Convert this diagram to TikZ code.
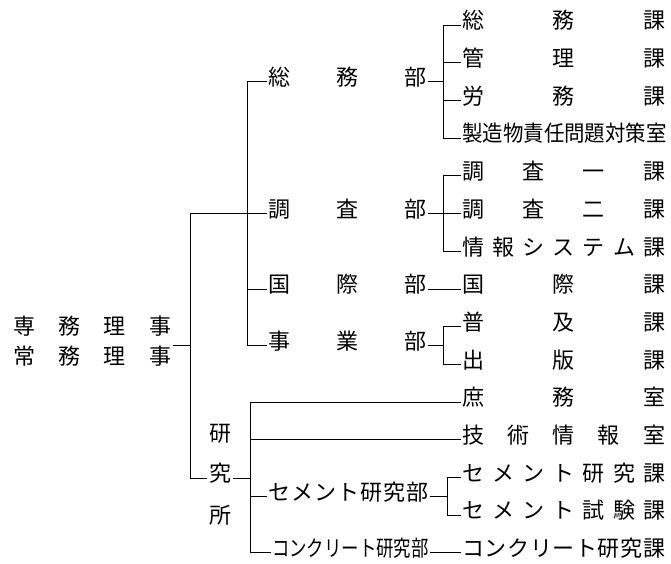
\documentclass[tikz,border=0pt]{standalone}
\usepackage{fontspec}
\usepackage{graphicx}
\setmainfont{Noto Sans CJK JP}
\newcommand\spr[2]{\hbox to #1{#2}}
\begin{document}
\begin{tikzpicture}[x=1pt,y=-1pt,
  lbl/.style={anchor=west, inner xsep=1.5pt, inner ysep=0pt, text height=0.88em, text depth=0.12em, font=\fontsize{22}{25}\selectfont},
  cl/.style={anchor=center, inner xsep=1.5pt, inner ysep=0pt, text height=0.88em, text depth=0.12em, font=\fontsize{22}{25}\selectfont},
  conn/.style={line width=0.8pt, black}]
\useasboundingbox (0,0) rectangle (671,564);
% root
\node[lbl] (root1) at (11.5,331) {\spr{158pt}{専\hfil 務\hfil 理\hfil 事}};
\node[lbl] (root2) at (11.5,361) {\spr{158pt}{常\hfil 務\hfil 理\hfil 事}};
% departments
\node[lbl] (d1) at (266.5,81.5) {\spr{158pt}{総\hfil 務\hfil 部}};
\node[lbl] (d2) at (266.5,213.5) {\spr{158pt}{調\hfil 査\hfil 部}};
\node[lbl] (d3) at (266.5,288.9) {\spr{158pt}{国\hfil 際\hfil 部}};
\node[lbl] (d4) at (266.5,345.5) {\spr{158pt}{事\hfil 業\hfil 部}};
% research institute
\node[cl] (ken) at (220,438) {研};
\node[cl] (kyu) at (220,478) {究};
\node[cl] (sho) at (220,520) {所};
\node[lbl] (d5) at (266.5,496.2) {\spr{160pt}{セ\hfil メ\hfil ン\hfil ト\hfil 研\hfil 究\hfil 部}};
\node[lbl] (d6) at (270.5,552.8) {\scalebox{0.79}[1]{コンクリート研究部}};
% sections
\node[lbl] (r1) at (460.5,25) {\spr{203pt}{総\hfil 務\hfil 課}};
\node[lbl] (r2) at (460.5,62.7) {\spr{203pt}{管\hfil 理\hfil 課}};
\node[lbl] (r3) at (460.5,100.4) {\spr{203pt}{労\hfil 務\hfil 課}};
\node[lbl] (r4) at (460.5,138.1) {\scalebox{0.93}[1]{製造物責任問題対策室}};
\node[lbl] (r5) at (460.5,175.8) {\spr{203pt}{調\hfil 査\hfil 一\hfil 課}};
\node[lbl] (r6) at (460.5,213.5) {\spr{203pt}{調\hfil 査\hfil 二\hfil 課}};
\node[lbl] (r7) at (460.5,251.2) {\spr{203pt}{情\hfil 報\hfil シ\hfil ス\hfil テ\hfil ム\hfil 課}};
\node[lbl] (r8) at (460.5,288.9) {\spr{203pt}{国\hfil 際\hfil 課}};
\node[lbl] (r9) at (460.5,326.6) {\spr{203pt}{普\hfil 及\hfil 課}};
\node[lbl] (r10) at (460.5,364.3) {\spr{203pt}{出\hfil 版\hfil 課}};
\node[lbl] (r11) at (460.5,402) {\spr{203pt}{庶\hfil 務\hfil 室}};
\node[lbl] (r12) at (460.5,439.7) {\spr{203pt}{技\hfil 術\hfil 情\hfil 報\hfil 室}};
\node[lbl] (r13) at (460.5,477.4) {\spr{203pt}{セ\hfil メ\hfil ン\hfil ト\hfil 研\hfil 究\hfil 課}};
\node[lbl] (r14) at (460.5,515.1) {\spr{203pt}{セ\hfil メ\hfil ン\hfil ト\hfil 試\hfil 験\hfil 課}};
\node[lbl] (r15) at (460.5,552.8) {\spr{203pt}{コ\hfil ン\hfil ク\hfil リ\hfil ー\hfil ト\hfil 研\hfil 究\hfil 課}};
% bracket columns
\coordinate (xa) at (190,0);
\coordinate (xb) at (247,0);
\coordinate (xc) at (443,0);
\coordinate (xd) at (250,0);
\coordinate (xe) at (447,0);
% connectors
\draw[conn] (root1.east |- d4.west) -- (xa |- d4.west);
\draw[conn] (d2.west) -- (xa |- d2.west) -- (xa |- kyu.west) -- (kyu.west);
\draw[conn] (d1.west) -- (xb |- d1.west) -- (xb |- d4.west) -- (d4.west);
\draw[conn] (d3.west) -- (xb |- d3.west);
% 総務部
\draw[conn] (d1.east) -- (xc |- d1.east);
\draw[conn] (r1.west) -- (xc |- r1.west) -- (xc |- r4.west) -- (r4.west);
\draw[conn] (r2.west) -- (xc |- r2.west);
\draw[conn] (r3.west) -- (xc |- r3.west);
% 調査部
\draw[conn] (d2.east) -- (r6.west);
\draw[conn] (r5.west) -- (xc |- r5.west) -- (xc |- r7.west) -- (r7.west);
% 国際部
\draw[conn] (d3.east) -- (r8.west);
% 事業部
\draw[conn] (d4.east) -- (xc |- d4.east);
\draw[conn] (r9.west) -- (xc |- r9.west) -- (xc |- r10.west) -- (r10.west);
% 研究所
\draw[conn] (r11.west) -- (xd |- r11.west) -- (xd |- d6.west) -- (d6.west);
\draw[conn] (r12.west) -- (xd |- r12.west);
\draw[conn] (kyu.east) -- (xd |- kyu.east);
\draw[conn] (d5.west) -- (xd |- d5.west);
\draw[conn] (d5.east) -- (xe |- d5.east);
\draw[conn] (r13.west) -- (xe |- r13.west) -- (xe |- r14.west) -- (r14.west);
\draw[conn] (d6.east) -- (r15.west);
\end{tikzpicture}
\end{document}
